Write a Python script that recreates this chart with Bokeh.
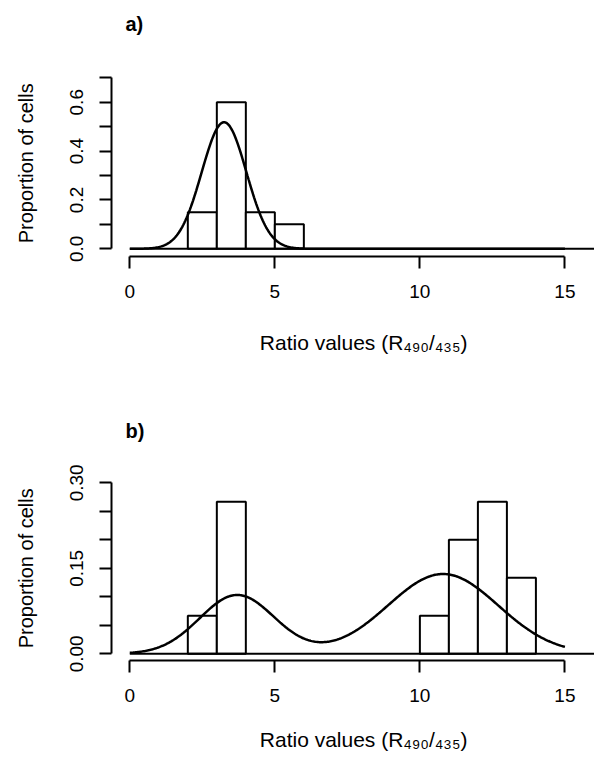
import math
import numpy as np
from bokeh.plotting import figure
from bokeh.layouts import column
from bokeh.models import (Range1d, FixedTicker, PrintfTickFormatter, Label,
                          LinearAxis, CustomJSTickFormatter)
from bokeh.embed import file_html
from bokeh.resources import INLINE

FONT = "Liberation Sans"

# ---------------- data ----------------
# panel a) histogram (bin edges, proportions)
a_left = [2, 3, 4, 5]
a_right = [3, 4, 5, 6]
a_prop = [0.15, 0.60, 0.15, 0.10]
# fitted normal density for panel a)
a_mean = 3.25
a_sd = 0.77

# panel b) histogram
b_left = [2, 3, 10, 11, 12, 13]
b_right = [3, 4, 11, 12, 13, 14]
b_prop = [1/15, 4/15, 1/15, 3/15, 4/15, 2/15]
# fitted two-component normal mixture for panel b)
b_weights = [1/3, 2/3]
b_means = [3.7, 10.8]
b_sds = [1.29, 1.9]

x_ticks = [0, 5, 10, 15]
a_yticks = [0.0, 0.2, 0.4, 0.6]
a_yminor = [0.1, 0.3, 0.5, 0.7]
b_yticks = [0.0, 0.15, 0.30]
b_yminor = [0.05, 0.10, 0.20, 0.25]

x_label = "Ratio values (R\u2084\u2089\u2080/\u2084\u2083\u2085)"
y_label = "Proportion of cells"

curve_from, curve_to = 0, 15
XLAB_CENTER = 8.06   # horizontal centre of the x-axis title (layout)


def dnorm(x, m, s):
    return np.exp(-0.5 * ((x - m) / s) ** 2) / (s * math.sqrt(2 * math.pi))


def text_axis(text, pos, orientation, size, standoff):
    ax = LinearAxis(ticker=FixedTicker(ticks=[pos], minor_ticks=[]),
                    formatter=CustomJSTickFormatter(code="return %r" % text))
    ax.axis_line_color = None
    ax.major_tick_line_color = None
    ax.minor_tick_line_color = None
    ax.major_tick_out = 0
    ax.major_tick_in = 0
    ax.major_label_text_font = FONT
    ax.major_label_text_font_size = size
    ax.major_label_text_color = "black"
    ax.major_label_orientation = orientation
    ax.major_label_standoff = standoff
    return ax


def make_panel(title, height, y_range, bot_b, left, right, prop,
               curve_y, yticks, yminor, yfmt, ybounds, xlab_standoff, title_y):
    p = figure(width=594, height=height, output_backend="svg",
               toolbar_location=None, title_location=None,
               x_range=Range1d(-0.631, 16.02), y_range=Range1d(*y_range),
               min_border_left=111, min_border_right=0,
               min_border_top=0, min_border_bottom=bot_b)
    p.outline_line_color = None
    p.xgrid.visible = False
    p.ygrid.visible = False
    p.background_fill_color = "white"
    p.border_fill_color = "white"

    # panel letter, placed in screen units inside the (borderless) frame
    p.add_layout(Label(x=14, y=title_y, x_units="screen", y_units="screen",
                       text=title, text_font=FONT, text_font_size="20px",
                       text_font_style="bold", text_color="black",
                       text_baseline="alphabetic", text_align="left"))

    p.quad(left=left, right=right, top=prop, bottom=0,
           fill_color="white", line_color="black", line_width=2)
    xs = np.linspace(curve_from, curve_to, 400)
    p.line(xs, curve_y(xs), line_color="black", line_width=2.5)
    p.segment(x0=[curve_from], y0=[0], x1=[p.x_range.end], y1=[0],
              line_color="black", line_width=2)

    for ax in (p.xaxis[0], p.yaxis[0]):
        ax.axis_line_width = 2
        ax.major_tick_line_width = 2
        ax.minor_tick_line_width = 2
        ax.major_tick_out = 12
        ax.major_tick_in = 0
        ax.minor_tick_out = 12
        ax.minor_tick_in = 0
        ax.major_label_text_font = FONT
        ax.major_label_text_font_size = "19px"
        ax.major_label_text_color = "black"

    xa = p.xaxis[0]
    xa.ticker = FixedTicker(ticks=x_ticks)
    xa.bounds = (0, 15)
    xa.major_label_standoff = 16

    ya = p.yaxis[0]
    ya.ticker = FixedTicker(ticks=yticks, minor_ticks=yminor)
    ya.formatter = PrintfTickFormatter(format=yfmt)
    ya.bounds = ybounds
    ya.major_label_orientation = "vertical"
    ya.major_label_standoff = 16

    # axis titles as outer label-only axes (centred on the drawn axis extent)
    p.add_layout(text_axis(y_label, (ybounds[0] + ybounds[1]) / 2,
                           "vertical", "20px", 30), "left")
    p.add_layout(text_axis(x_label, XLAB_CENTER, "horizontal", "21px",
                           xlab_standoff), "below")
    return p


def curve_a(x):
    return dnorm(x, a_mean, a_sd)


def curve_b(x):
    return sum(w * dnorm(x, m, s) for w, m, s in zip(b_weights, b_means, b_sds))


pa = make_panel("a)", 405, (-0.0315, 1.0164), 149, a_left, a_right, a_prop,
                curve_a, a_yticks, a_yminor, "%.1f", (0, 0.7), 30, 233)
pb = make_panel("b)", 353, (-0.01175, 0.4356), 98, b_left, b_right, b_prop,
                curve_b, b_yticks, b_yminor, "%.2f", (0, 0.30), 23, 230)

layout = column(pa, pb, spacing=0)
open("out.html", "w").write(file_html(layout, INLINE))
